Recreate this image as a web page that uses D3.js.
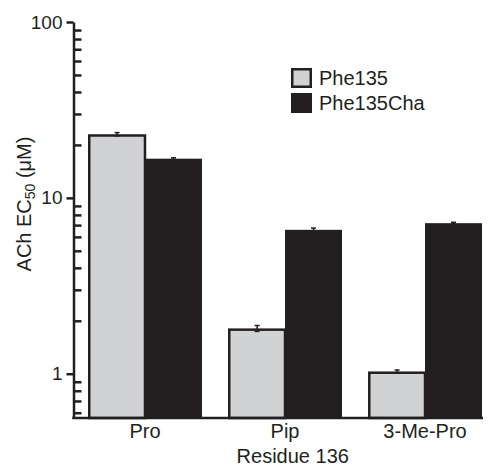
<!DOCTYPE html>
<html>
<head>
<meta charset="utf-8">
<script src="https://cdn.jsdelivr.net/npm/d3@7"></script>
<style>
  html, body { margin: 0; padding: 0; background: #fff; }
  svg { display: block; }
  text { font-family: "Liberation Sans", Arial, Helvetica, sans-serif; fill: #231f20; }
</style>
</head>
<body>
<svg id="chart" width="491" height="467"></svg>
<script>
const categories = ["Pro", "Pip", "3-Me-Pro"];
const seriesNames = ["Phe135", "Phe135Cha"];
const phe135 = [23.0, 1.81, 1.03];
const phe135Err = [0.5, 0.07, 0.02];
const phe135Cha = [16.7, 6.58, 7.18];
const phe135ChaErr = [0.2, 0.15, 0.08];
const majorTicks = [1, 10, 100];
const minorTicks = [0.6, 0.7, 0.8, 0.9, 2, 3, 4, 5, 6, 7, 8, 9, 20, 30, 40, 50, 60, 70, 80, 90];

const ink = "#231f20";
const light = "#d1d2d4";
const colors = [light, ink];

const svg = d3.select("#chart");
const axisX = 73.5;
const yBottom = 418;

const y = d3.scaleLog().domain([0.56, 100]).range([yBottom, 22]);
const x0 = d3.scaleBand().domain(categories).range([88, 482]).paddingInner(0.186).paddingOuter(0);
const x1 = d3.scaleBand().domain(seriesNames).range([0, x0.bandwidth()]).padding(0);

const data = categories.map((c, i) => ({
  cat: c,
  vals: [
    { s: seriesNames[0], v: phe135[i], e: phe135Err[i] },
    { s: seriesNames[1], v: phe135Cha[i], e: phe135ChaErr[i] }
  ]
}));

// bars
const g = svg.append("g");
data.forEach(d => {
  d.vals.forEach((b, j) => {
    const bx = x0(d.cat) + x1(b.s);
    const by = y(b.v);
    if (j === 0) {
      g.append("rect")
        .attr("x", bx + 1.25).attr("y", by + 1.25)
        .attr("width", x1.bandwidth() - 1.25).attr("height", yBottom - by - 1.25)
        .attr("fill", light).attr("stroke", ink).attr("stroke-width", 2.5);
    } else {
      g.append("rect")
        .attr("x", bx).attr("y", by)
        .attr("width", x1.bandwidth()).attr("height", yBottom - by)
        .attr("fill", ink);
    }
    // error bar
    const cx = bx + x1.bandwidth() / 2 + (j === 0 ? 0.6 : 0);
    const eg = g.append("g").attr("stroke", ink).attr("stroke-width", 1.5);
    eg.append("line").attr("x1", cx).attr("x2", cx).attr("y1", y(b.v + b.e)).attr("y2", y(b.v - b.e));
    eg.append("line").attr("x1", cx - 2.5).attr("x2", cx + 2.5).attr("y1", y(b.v + b.e)).attr("y2", y(b.v + b.e));
    eg.append("line").attr("x1", cx - 2.5).attr("x2", cx + 2.5).attr("y1", y(b.v - b.e)).attr("y2", y(b.v - b.e));
  });
});

// y axis major (outward, labelled)
const yMajor = svg.append("g").attr("transform", `translate(${axisX},0)`)
  .call(d3.axisLeft(y).tickValues(majorTicks).tickFormat(d3.format("d")).tickSizeInner(7).tickSizeOuter(0).tickPadding(4));
yMajor.select(".domain").attr("stroke", ink).attr("stroke-width", 2.5);
yMajor.selectAll(".tick line").attr("stroke", ink).attr("stroke-width", 2.5);
yMajor.selectAll(".tick text").style("font-size", "19px").attr("fill", ink);

// y axis minor (inward)
const yMinor = svg.append("g").attr("transform", `translate(${axisX},0)`)
  .call(d3.axisRight(y).tickValues(minorTicks).tickFormat("").tickSizeInner(8).tickSizeOuter(0));
yMinor.select(".domain").remove();
yMinor.selectAll(".tick line").attr("stroke", ink).attr("stroke-width", 2.5);

// x axis
const xAxis = svg.append("g").attr("transform", `translate(0,${yBottom})`)
  .call(d3.axisBottom(x0).tickSize(0));
xAxis.select(".domain").remove();
xAxis.append("line").attr("x1", axisX - 1.25).attr("x2", x0.range()[1] + 1)
  .attr("y1", 0).attr("y2", 0).attr("stroke", ink).attr("stroke-width", 2.5);
xAxis.selectAll(".tick text").attr("dy", 0).attr("y", 20).style("font-size", "20px").attr("fill", ink);

// axis titles
svg.append("text").attr("x", (axisX + x0.range()[1]) / 2 + 15).attr("y", 463)
  .attr("text-anchor", "middle").style("font-size", "20px").text("Residue 136");

const yl = svg.append("text").attr("transform", "translate(31,204) rotate(-90)")
  .attr("text-anchor", "middle").style("font-size", "20px");
yl.append("tspan").text("ACh EC");
yl.append("tspan").attr("dy", 4).style("font-size", "14px").text("50");
yl.append("tspan").attr("dy", -4).text(" (μM)");

// legend
const lg = svg.append("g").attr("transform", "translate(291,68)");
seriesNames.forEach((s, i) => {
  const row = lg.append("g").attr("transform", `translate(0,${i * 25})`);
  if (i === 0) {
    row.append("rect").attr("x", 1.25).attr("y", 1.25).attr("width", 18.5).attr("height", 17.5)
      .attr("fill", colors[i]).attr("stroke", ink).attr("stroke-width", 2.5);
  } else {
    row.append("rect").attr("x", 0).attr("y", 0).attr("width", 21).attr("height", 20).attr("fill", colors[i]);
  }
  row.append("text").attr("x", 28).attr("y", 17).style("font-size", "20px").text(s);
});
</script>
</body>
</html>
